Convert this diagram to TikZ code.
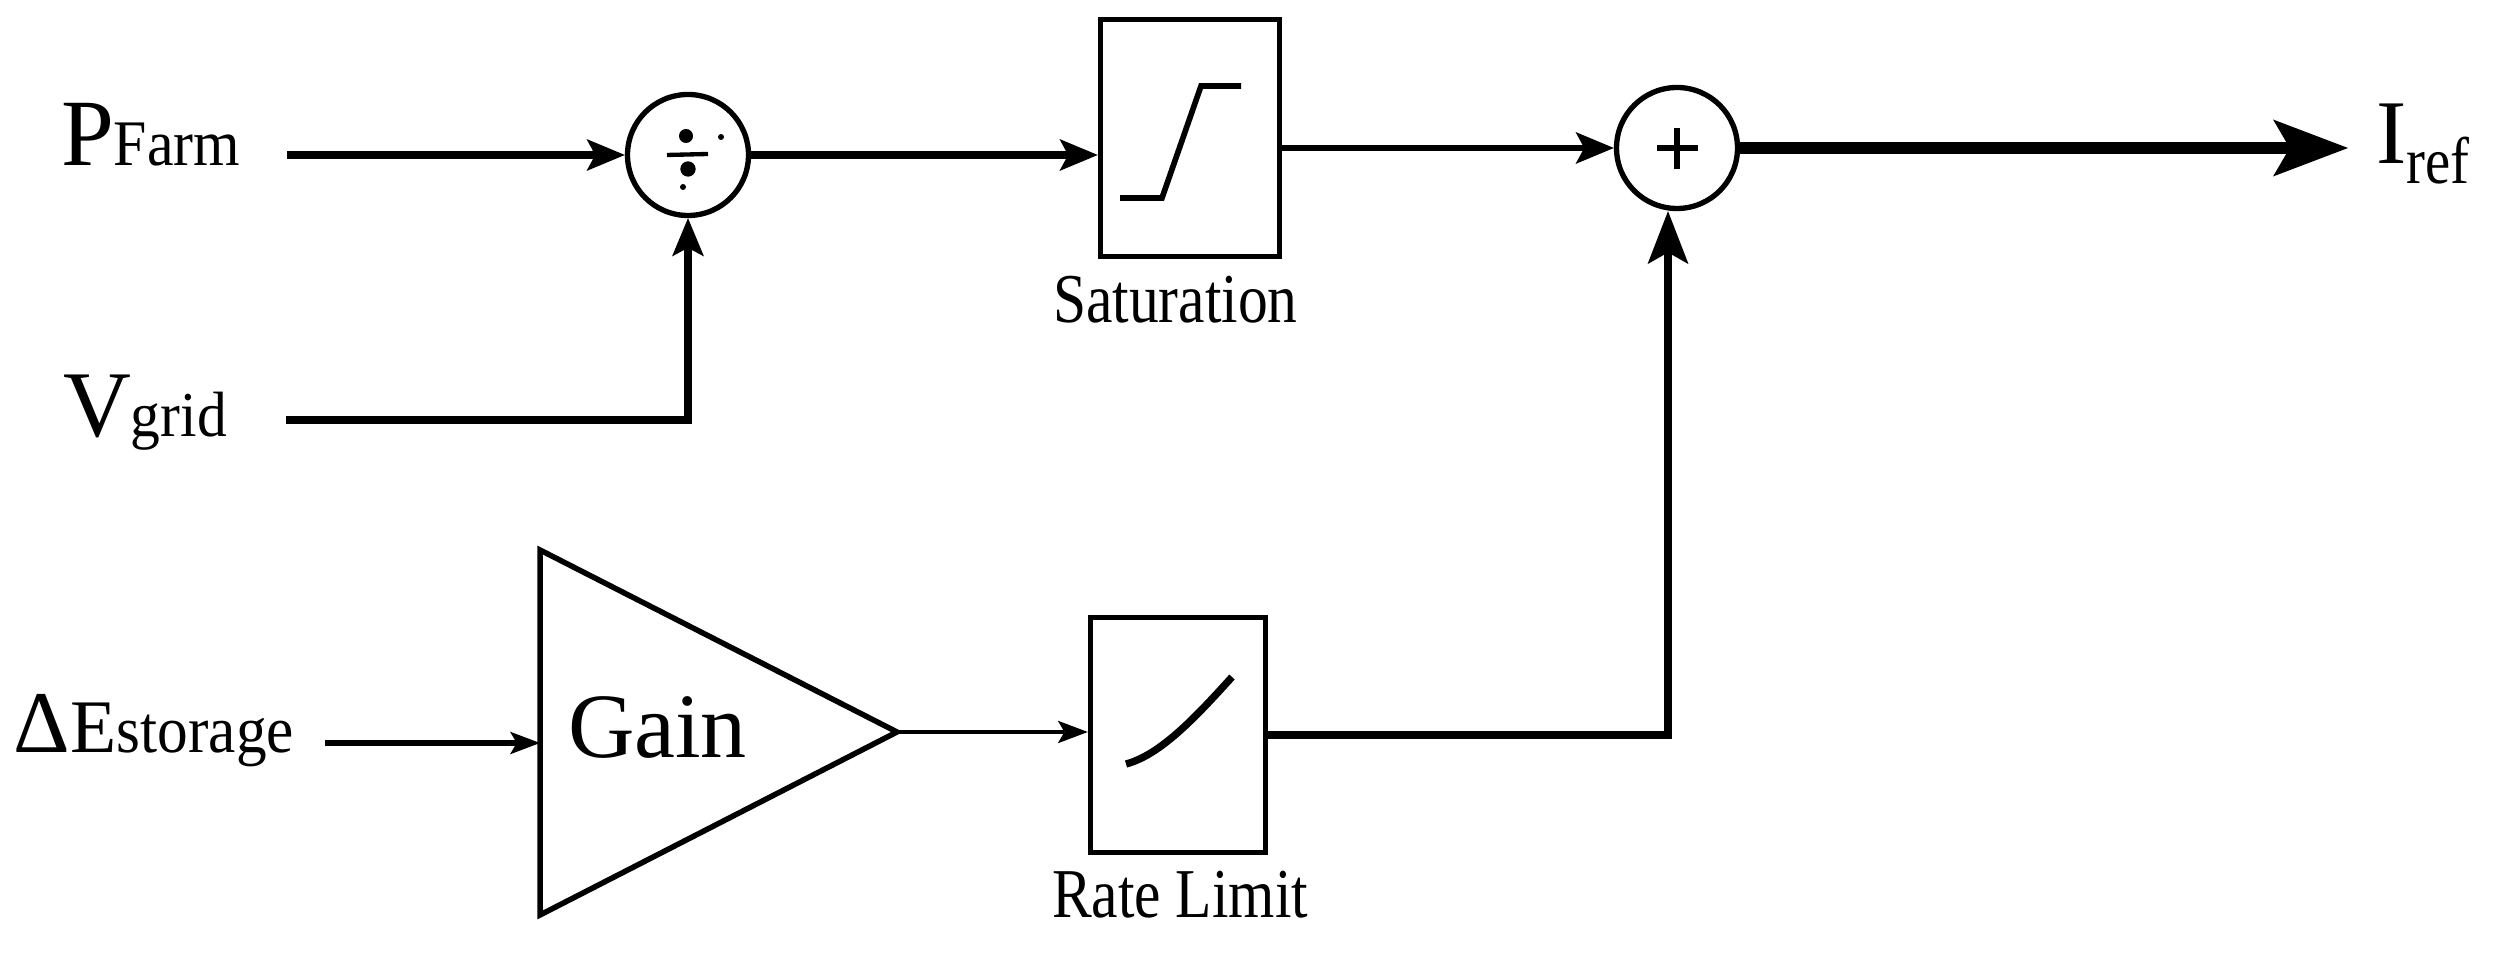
\documentclass[tikz,border=0pt]{standalone}
\usepackage{fontspec}
\setmainfont{Liberation Serif}
\usepackage{graphicx}
\usetikzlibrary{arrows.meta}
\newcommand\myfs[1]{\fontsize{#1}{#1}\selectfont}
\newcommand\cond[2]{\scalebox{#1}[1]{#2}}
\tikzset{
  tA/.tip={Stealth[length=11.5pt,width=9.6pt,inset=2.6pt,line width=0pt]},
  tBig/.tip={Stealth[length=22.5pt,width=17.1pt,inset=5pt,line width=0pt]},
  tUp/.tip={Stealth[length=15.9pt,width=12.3pt,inset=3.5pt,line width=0pt]},
  tS/.tip={Stealth[length=9pt,width=6.8pt,inset=2pt,line width=0pt]},
  lbl/.style={inner sep=0pt, outer sep=0pt, anchor=base west},
  blk/.style={draw, line width=1.65pt, inner sep=0pt},
  junc/.style={draw, circle, line width=1.6pt, inner sep=0pt, minimum size=36.3pt},
}
\begin{document}
\begin{tikzpicture}[x=0.3pt,y=-0.3pt]
\useasboundingbox (0,0) rectangle (2493,953);
% blocks
\node[junc] (div) at (688,155) {};
\node[junc] (sum) at (1677,148) {};
\node[blk, minimum width=53.7pt, minimum height=71.1pt] (sat) at (1190,138) {};
\node[blk, minimum width=52.5pt, minimum height=70.5pt] (rate) at (1178,735) {};
\coordinate (gtop) at (540,550);
\coordinate (gout) at (897,732);
\coordinate (gbot) at (540,915);
\draw[line width=1.65pt] (gtop) -- (gout) -- (gbot) -- cycle;
\node[lbl] (gain) at (568,758) {\myfs{27.6}Gain};
% labels
\node[lbl] (pf) at (61,166) {\myfs{28.5}P\cond{0.92}{\myfs{19.5}Farm}};
\node[lbl] (vg) at (63,437) {\myfs{28.2}V\cond{0.93}{\myfs{19.2}grid}};
\node[lbl] (de) at (14,753) {\myfs{26.4}Δ\myfs{22.7}E\cond{0.92}{\myfs{20}storage}};
\node[lbl] (ir) at (2376,164) {\myfs{27.3}I\raisebox{-6pt}{\cond{0.86}{\myfs{19.8}ref}}};
\node[lbl] (satl) at (1053,323) {\cond{0.85}{\myfs{21}Saturation}};
\node[lbl] (ratel) at (1052,918) {\cond{0.85}{\myfs{21}Rate Limit}};
% free ends
\coordinate (pfs) at (287,155);
\coordinate (vgs) at (286,420);
\coordinate (des) at (325,743);
\coordinate (gin) at (540,743);
\coordinate (iref) at (2348,148);
\coordinate (sumin) at (1668,148);
% connectors
\draw[line width=2.3pt, -tA] (pfs) -- (div.west);
\draw[line width=2.2pt, -tA] (vgs) -| (div.south);
\draw[line width=2.2pt, -tA] (div.east) -- (sat.west |- div.east);
\draw[line width=1.6pt, -tA] (sat.east |- sum.west) -- (sum.west);
\draw[line width=3.7pt, -tBig] (sum.east) -- (iref);
\draw[line width=1.9pt, -tS] (des) -- (gin);
\draw[line width=1.45pt, -tS] (gout) -- (rate.west |- gout);
\draw[line width=2.5pt, -tUp] (rate.east) -| (sumin |- sum.south);
% symbols
\draw[line width=1.7pt] (1120,198) -- (1162,198) -- (1201,86) -- (1241,86);
\draw[line width=2.2pt] (1126,764) .. controls (1160,755) and (1195,718) .. (1232,677);
\draw[line width=1.8pt] (1657,148) -- (1698,148) (1677,128) -- (1677,169);
\fill (686,136) circle (2.1pt);
\fill (688,169) circle (2.3pt);
\fill (721,137) circle (0.9pt);
\fill (683,187) circle (0.9pt);
\draw[line width=1.3pt] (667,155) -- (708,154);
\end{tikzpicture}
\end{document}
